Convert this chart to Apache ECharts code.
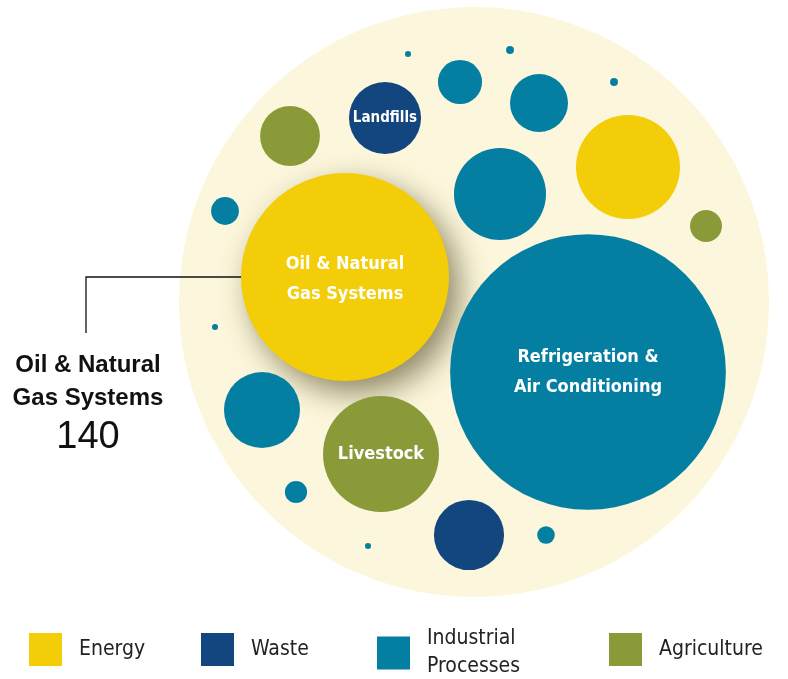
<!DOCTYPE html>
<html>
<head>
<meta charset="utf-8">
<script src="https://cdn.jsdelivr.net/npm/echarts@6/dist/echarts.min.js"></script>
<style>
  html, body { margin: 0; padding: 0; background: #fff; }
  #main { width: 788px; height: 679px; }
</style>
</head>
<body>
<div id="main"></div>
<script>
// emission sources, values (Oil & Natural Gas = 140)
var categories = ['Energy', 'Waste', 'Industrial Processes', 'Agriculture']
var sourceLabels = ['Oil & Natural\nGas Systems', 'Refrigeration &\nAir Conditioning', 'Livestock', 'Landfills',
  '', '', '', '', '', '', '', '', '', '', '', '', '', '', '', '']
var sourceCategory = [0, 2, 3, 1, 0, 2, 2, 2, 3, 2, 3, 2, 1, 2, 2, 2, 2, 2, 2, 2]
var sourceValues = [140, 246, 43.5, 16.8, 35, 27.4, 10.9, 6.3, 11.6, 2.5, 3.3, 18.7, 15.9, 1.6, 1.0, 0.12, 0.12, 0.12, 0.2, 0.2]

// packing layout (bubble centres)
var layoutX = [345, 588, 381, 385, 628, 500, 539, 460, 290, 225, 706, 262, 469, 296, 546, 368, 215, 408, 510, 614]
var layoutY = [277, 372, 454, 118, 167, 194, 103, 82, 136, 211, 226, 410, 535, 492, 535, 546, 327, 54, 50, 82]

var colors = ['#F2CD08', '#13457E', '#047FA2', '#8A9A38']
var condensed = '"DejaVu Sans Condensed", "Liberation Sans Narrow", sans-serif'

var myChart = echarts.init(document.getElementById('main'))

function diameter(v) {
  return 208 * Math.sqrt(v / 140)
}

var series = [{
  name: 'bg',
  type: 'scatter',
  silent: true,
  z: 1,
  symbolSize: 590,
  itemStyle: { color: '#FCF7DC', opacity: 1 },
  data: [[474, 302]]
}]

categories.forEach(function (cat, ci) {
  var data = []
  sourceValues.forEach(function (v, i) {
    if (sourceCategory[i] !== ci) return
    var item = {
      value: [layoutX[i], layoutY[i], v],
      label: { show: !!sourceLabels[i], formatter: sourceLabels[i] }
    }
    if (i === 0) {
      item.itemStyle = { shadowBlur: 30, shadowColor: 'rgba(70,60,20,0.6)', shadowOffsetX: 10, shadowOffsetY: 12 }
      item.label.offset = [0, 2]
    }
    if (i === 3) {
      item.label.fontSize = 15
    }
    data.push(item)
  })
  series.push({
    name: cat,
    type: 'scatter',
    z: 2,
    symbolSize: function (val) { return diameter(val[2]) },
    itemStyle: { color: colors[ci], opacity: 1 },
    label: {
      position: 'inside',
      color: '#fff',
      fontSize: 18,
      fontWeight: 'bold',
      lineHeight: 30,
      fontFamily: condensed
    },
    emphasis: { disabled: true },
    data: data
  })
})

var legendLeft = [29, 201, 377, 609]
var legendTop = [633, 633, 625, 633]
var legends = categories.map(function (cat, ci) {
  return {
    data: [cat],
    left: legendLeft[ci],
    top: legendTop[ci],
    padding: 0,
    itemWidth: 33,
    itemHeight: 33,
    icon: 'rect',
    selectedMode: false,
    formatter: function (n) { return n === 'Industrial Processes' ? 'Industrial\nProcesses' : n },
    textStyle: {
      fontSize: 21,
      color: '#222',
      lineHeight: 28,
      padding: [0, 0, 0, 12],
      fontFamily: condensed
    }
  }
})

var option = {
  animation: false,
  grid: { left: 0, right: 0, top: 0, bottom: 0 },
  xAxis: { type: 'value', min: 0, max: 788, show: false },
  yAxis: { type: 'value', min: 0, max: 679, inverse: true, show: false },
  legend: legends,
  graphic: [
    {
      type: 'polyline',
      z: 100,
      shape: { points: [[241, 277], [86, 277], [86, 333]] },
      style: { stroke: '#111', lineWidth: 1.3, fill: null }
    },
    {
      type: 'text',
      z: 100,
      style: {
        x: 88, y: 349,
        text: 'Oil & Natural\nGas Systems',
        textAlign: 'center',
        font: 'bold 24px "Liberation Sans", sans-serif',
        lineHeight: 33,
        fill: '#111'
      }
    },
    {
      type: 'text',
      z: 100,
      style: {
        x: 88, y: 419,
        text: String(sourceValues[0]),
        textAlign: 'center',
        font: '38px "Liberation Sans", sans-serif',
        fill: '#111'
      }
    }
  ],
  series: series
}
myChart.setOption(option)
</script>
</body>
</html>
